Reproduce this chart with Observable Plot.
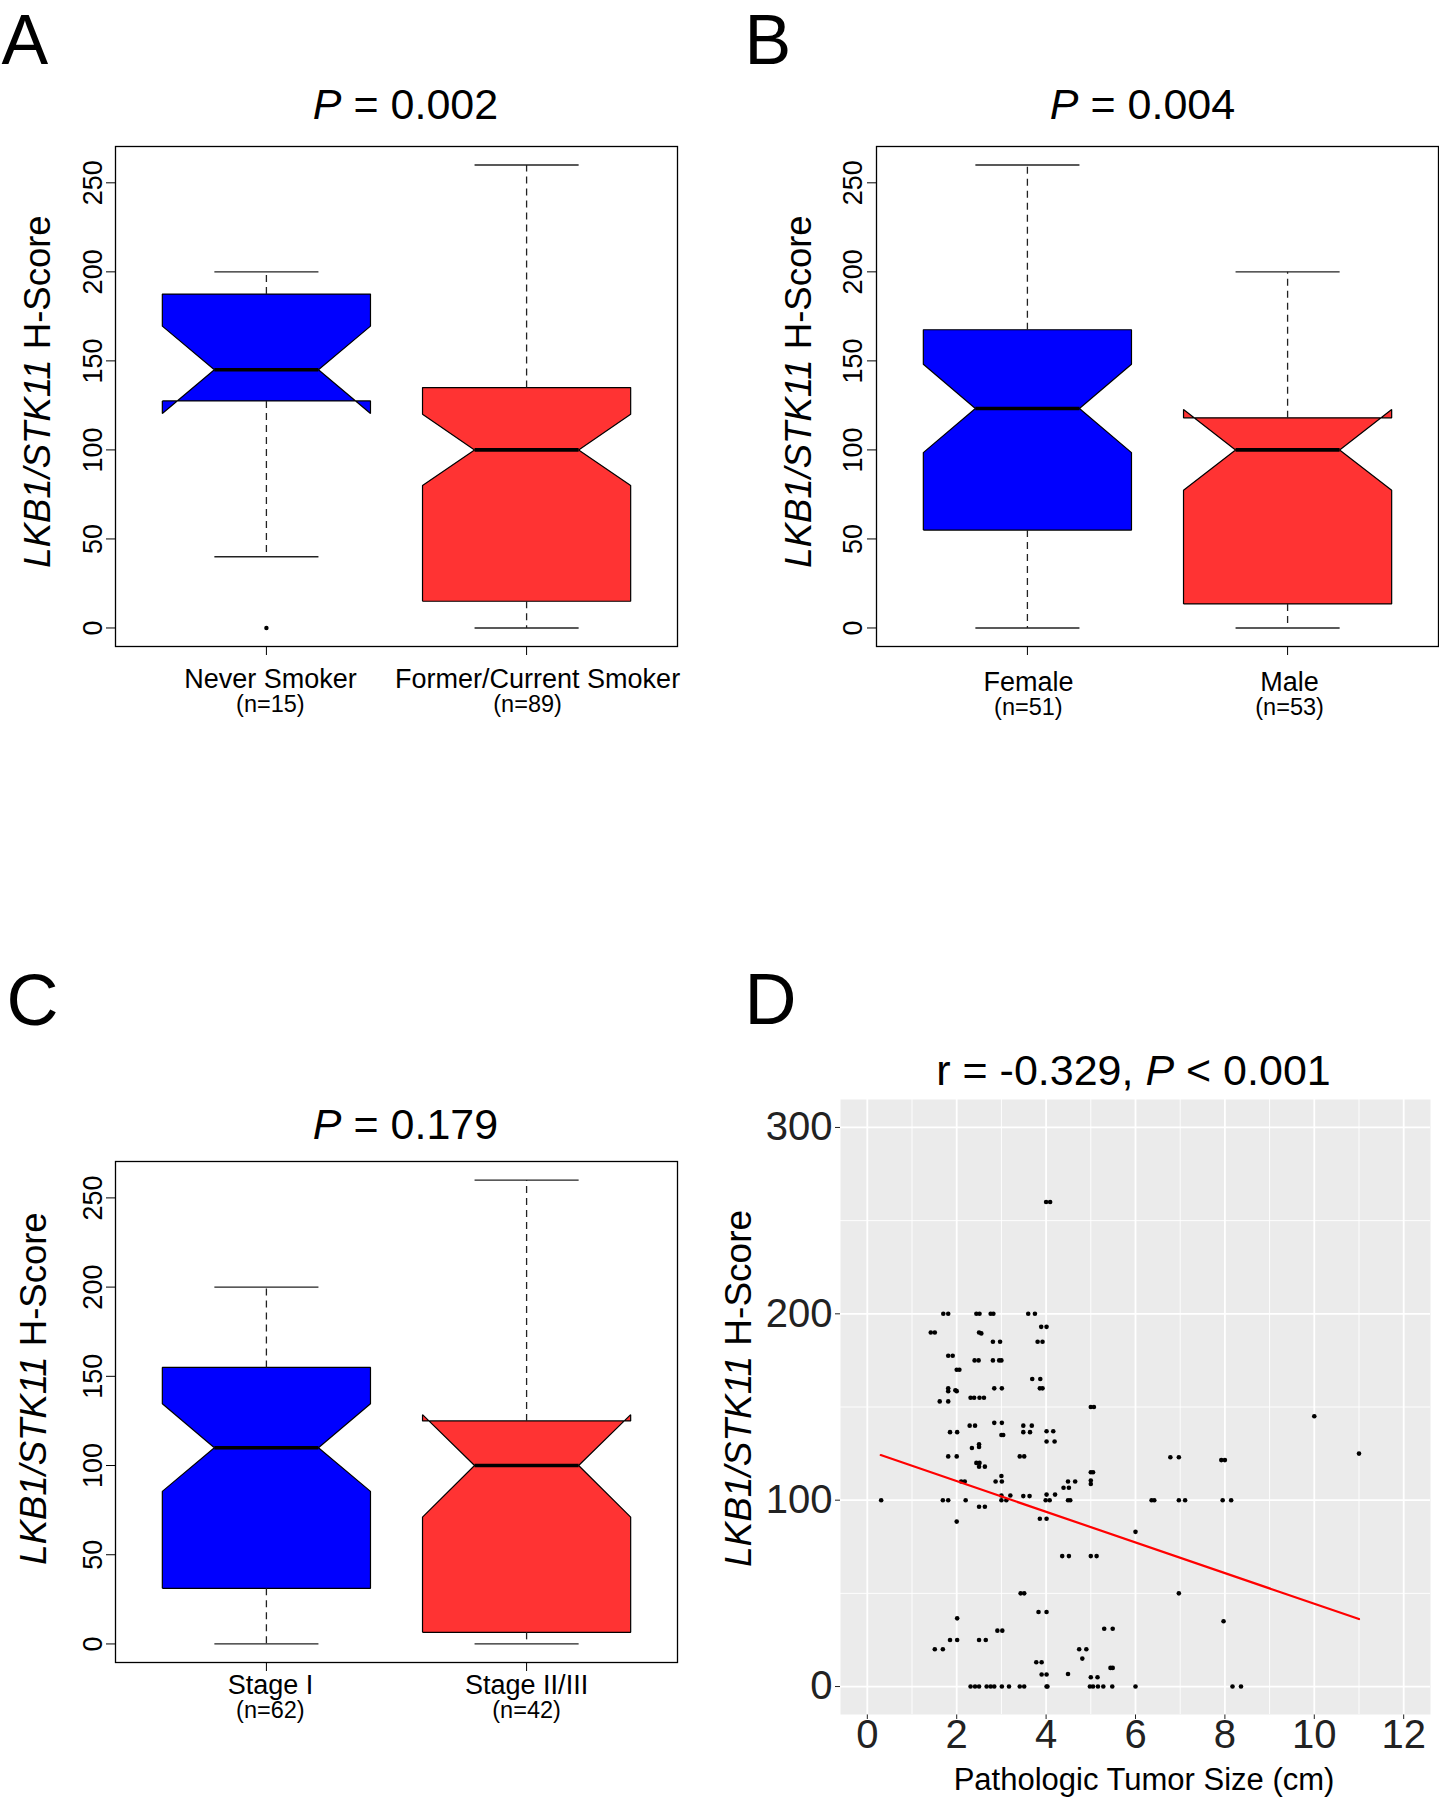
<!DOCTYPE html>
<html><head><meta charset="utf-8">
<script src="https://cdn.jsdelivr.net/npm/d3@7"></script>
<script src="https://cdn.jsdelivr.net/npm/@observablehq/plot@0.6"></script>
<style>
body{margin:0;background:#fff;}
#fig{position:relative;width:1439px;height:1800px;overflow:hidden;background:#fff;}
.panel{position:absolute;}
</style></head><body><div id="fig"></div>
<script>
// ---------------- DATA ----------------
const yLabelText = "LKB1/STK11 H-Score";
const yLabelItalic = "LKB1/STK11";
const boxColors = ["#0000FF", "#FF3333"];
const yTicksBox = [0, 50, 100, 150, 200, 250];

// Panel A
const catsA = ["Never Smoker", "Former/Current Smoker"];
const nA = ["(n=15)", "(n=89)"];
const whiskerLowA = [40, 0];
const q1A = [127.5, 15];
const notchLowA = [120.5, 80];
const medianA = [145, 100];
const notchHighA = [169.5, 120];
const q3A = [187.5, 135];
const whiskerHighA = [200, 260];
const outliersA = [[0], []];
const titleA = "P = 0.002";

// Panel B
const catsB = ["Female", "Male"];
const nB = ["(n=51)", "(n=53)"];
const whiskerLowB = [0, 0];
const q1B = [55, 13.5];
const notchLowB = [98.5, 77.3];
const medianB = [123.3, 100];
const notchHighB = [148.1, 122.7];
const q3B = [167.5, 118];
const whiskerHighB = [260, 200];
const outliersB = [[], []];
const titleB = "P = 0.004";

// Panel C
const catsC = ["Stage I", "Stage II/III"];
const nC = ["(n=62)", "(n=42)"];
const whiskerLowC = [0, 0];
const q1C = [31.2, 6.5];
const notchLowC = [85.5, 71.1];
const medianC = [110, 100];
const notchHighC = [134.6, 128.5];
const q3C = [155, 125];
const whiskerHighC = [200, 260];
const outliersC = [[], []];
const titleC = "P = 0.179";

// Panel D (scatter)
const titleD = "r = -0.329, P < 0.001";
const xLabelD = "Pathologic Tumor Size (cm)";
const xTicksD = [0, 2, 4, 6, 8, 10, 12];
const xMinorD = [1, 3, 5, 7, 9, 11];
const yTicksD = [0, 100, 200, 300];
const yMinorD = [50, 150, 250];
const tumorSize = [
  4.00,4.09,1.70,1.81,2.44,2.51,2.76,2.82,3.60,3.75,3.89,4.01,1.42,1.51,2.50,2.55,2.81,2.97,3.81,3.92,
  1.81,1.91,2.40,2.49,2.81,2.95,3.00,2.00,2.06,3.69,3.87,1.81,1.81,1.97,2.00,2.84,3.01,3.86,3.92,
  2.31,2.39,2.51,2.61,1.62,1.81,5.00,5.07,2.29,2.41,2.84,3.01,3.49,3.68,1.85,2.01,3.49,3.64,4.01,4.16,
  4.01,4.19,3.00,3.04,2.50,2.50,2.34,1.81,2.00,3.41,3.51,2.44,2.51,2.50,2.63,2.10,2.18,2.87,3.01,3.00,
  5.00,5.05,4.49,4.65,4.39,4.51,5.00,5.00,4.01,4.20,3.00,3.20,3.49,3.63,0.31,1.69,1.81,2.20,3.00,3.11,
  3.99,4.08,4.49,4.54,2.50,2.63,2.00,3.86,4.01,4.36,4.51,5.00,5.13,3.43,3.51,
  2.01,3.83,4.01,2.91,3.02,1.85,2.01,2.50,2.65,1.51,1.69,4.74,4.90,4.81,3.78,3.90,3.90,4.01,4.49,5.00,5.15,
  2.31,2.41,2.50,2.67,2.76,2.84,3.01,3.17,3.41,3.51,4.01,4.03,4.98,5.05,5.16,5.28,5.48,6.00,8.17,8.36,
  10.0,11.0,6.78,6.97,7.92,8.00,6.36,6.42,6.97,7.11,7.95,8.14,6.00,6.97,7.97,5.30,5.49,5.44,5.49
];
const hScore = [
  260,260,200,200,200,200,200,200,200,200,193,193,190,190,190,189.5,185,185,185,185,
  177.5,177.5,175,175,175,175,175,170,170,165,165,160,158.5,159,158.5,160,160,160,160,
  155,155,155,155,153,153,150,150,140,140,141.5,141.5,140,140,136.5,136.5,136.5,136.5,137,137,
  131.5,131.5,135,135,130,128.5,128,123.5,123.5,123.5,123.5,120,120,118,118,110,110,110,110,113,
  115,115,110,110,106.7,106.7,110.5,108.7,103,103,102.5,102.5,102.2,102.2,100,100,100,100,100,100,
  100,100,100,100,96.5,96.5,88.5,90,90,70,70,70,70,50,50,
  36.6,40,40,30,30,25,25,25,25,20,20,20,20,15,13,13,6.5,6.5,6.7,5,5,
  0,0,0,0,0,0,0,0,0,0,0,0,0,0,0,0,0,0,0,0,
  145,125,123,123,121.5,121.5,100,100,100,100,100,100,83,50,35,31,31,10,10
];
const fitLine = [{x: 0.3, y: 124.2}, {x: 11.0, y: 36.2}];

// ---------------- DRAWING ----------------
const FONT = '"Liberation Sans", Arial, Helvetica, sans-serif';
const fig = document.getElementById("fig");

function italicize(svg, full, part) {
  d3.select(svg).selectAll("text").each(function () {
    if (this.textContent === full) {
      const k = full.indexOf(part);
      const sel = d3.select(this);
      sel.text(null);
      if (k > 0) sel.append("tspan").text(full.slice(0, k));
      sel.append("tspan").attr("font-style", "italic").text(part);
      if (k + part.length < full.length) sel.append("tspan").text(full.slice(k + part.length));
    }
  });
}

function place(svg, left, top, w, h) {
  const div = document.createElement("div");
  div.className = "panel";
  div.style.left = left + "px"; div.style.top = top + "px";
  div.style.width = w + "px"; div.style.height = h + "px";
  div.appendChild(svg);
  fig.appendChild(div);
}

function boxPanel(p, L) {
  const w = 0.4, nf = 0.5, st = 0.2;
  const marks = [];
  const medians = [], whiskers = [], staples = [], outs = [];
  p.cats.forEach((c, i) => {
    const x = i + 1;
    const poly = [
      [x - w, p.q1[i]], [x + w, p.q1[i]], [x + w, p.nlo[i]], [x + w * nf, p.med[i]],
      [x + w, p.nhi[i]], [x + w, p.q3[i]], [x - w, p.q3[i]], [x - w, p.nhi[i]],
      [x - w * nf, p.med[i]], [x - w, p.nlo[i]], [x - w, p.q1[i]]
    ];
    marks.push(Plot.line(poly, {x: d => d[0], y: d => d[1], fill: boxColors[i], stroke: "black",
      strokeWidth: 1.2, strokeLinejoin: "miter", strokeLinecap: "butt"}));
    medians.push({x1: x - w * nf, x2: x + w * nf, y1: p.med[i], y2: p.med[i]});
    whiskers.push({x1: x, x2: x, y1: p.q3[i], y2: p.hi[i]});
    whiskers.push({x1: x, x2: x, y1: p.q1[i], y2: p.lo[i]});
    staples.push({x1: x - st, x2: x + st, y1: p.hi[i], y2: p.hi[i]});
    staples.push({x1: x - st, x2: x + st, y1: p.lo[i], y2: p.lo[i]});
    p.out[i].forEach(v => outs.push({x, y: v}));
  });
  const seg = {x1: "x1", x2: "x2", y1: "y1", y2: "y2"};
  marks.push(Plot.link(medians, {...seg, stroke: "black", strokeWidth: 3.6, strokeLinecap: "butt"}));
  marks.push(Plot.link(whiskers, {...seg, stroke: "#222", strokeWidth: 1.3, strokeDasharray: "7,5"}));
  marks.push(Plot.link(staples, {...seg, stroke: "#222", strokeWidth: 1.3}));
  marks.push(Plot.dot(outs, {x: "x", y: "y", r: 2.2, fill: "black"}));
  marks.push(Plot.frame({stroke: "black", strokeWidth: 1.3}));
  // y tick labels (rotated, R style)
  marks.push(Plot.text(yTicksBox, {y: d => d, text: d => String(d), frameAnchor: "left", dx: L.tickDx,
    rotate: -90, textAnchor: "middle", lineAnchor: "bottom", fontSize: 27, fill: "black"}));
  // category labels (two lines)
  p.cats.forEach((c, i) => {
    marks.push(Plot.text([c], {x: () => i + 1, text: d => d, frameAnchor: "bottom", dx: L.catDx[i], dy: L.catDy,
      lineAnchor: "bottom", fontSize: 27, fill: "black"}));
    marks.push(Plot.text([p.ns[i]], {x: () => i + 1, text: d => d, frameAnchor: "bottom", dx: L.nDx[i], dy: L.nDy,
      lineAnchor: "bottom", fontSize: 23.5, fill: "black"}));
  });
  // title, letter, y label
  marks.push(Plot.text([p.title], {text: d => d, frameAnchor: "top", dx: L.titleDx, dy: L.titleDy,
    lineAnchor: "bottom", fontSize: 43, fill: "black"}));
  marks.push(Plot.text([p.letter], {text: d => d, frameAnchor: "top-left", dx: L.letterDx, dy: L.letterDy,
    textAnchor: "start", lineAnchor: "bottom", fontSize: L.letterSize, fill: "black"}));
  marks.push(Plot.text([yLabelText], {text: d => d, frameAnchor: "left", dx: L.ylabDx, dy: L.ylabDy,
    rotate: -90, textAnchor: "middle", lineAnchor: "bottom", fontSize: 36.5, fill: "black"}));

  const svg = Plot.plot({
    width: L.W, height: L.H,
    marginLeft: L.ml, marginRight: L.mr, marginTop: L.mt, marginBottom: L.mb,
    x: {domain: [0.42, 2.58], ticks: [1, 2], tickSize: 9, tickFormat: () => "", label: null},
    y: {domain: [-10.4, 270.4], ticks: yTicksBox, tickSize: 9, tickFormat: () => "", label: null},
    style: {fontFamily: FONT, background: "transparent", color: "black", overflow: "visible"},
    marks
  });
  italicize(svg, p.title, "P");
  italicize(svg, yLabelText, yLabelItalic);
  place(svg, L.left, L.top, L.W, L.H);
}

boxPanel(
  {cats: catsA, ns: nA, lo: whiskerLowA, q1: q1A, nlo: notchLowA, med: medianA, nhi: notchHighA,
   q3: q3A, hi: whiskerHighA, out: outliersA, title: titleA, letter: "A"},
  {left: 0, top: 0, W: 720, H: 760, ml: 115, mr: 43, mt: 146, mb: 114,
   tickDx: -13.5, catDx: [4, 11], nDx: [4, 1], catDy: 41, nDy: 65, titleDx: 9, titleDy: -28,
   letterDx: -114, letterDy: -83, letterSize: 70, ylabDx: -66, ylabDy: -5}
);
boxPanel(
  {cats: catsB, ns: nB, lo: whiskerLowB, q1: q1B, nlo: notchLowB, med: medianB, nhi: notchHighB,
   q3: q3B, hi: whiskerHighB, out: outliersB, title: titleB, letter: "B"},
  {left: 720, top: 0, W: 719, H: 760, ml: 156, mr: 1, mt: 146, mb: 114,
   tickDx: -15, catDx: [1, 2], nDx: [1, 2], catDy: 44, nDy: 68, titleDx: -15, titleDy: -28,
   letterDx: -132, letterDy: -83, letterSize: 70, ylabDx: -66, ylabDy: -5}
);
boxPanel(
  {cats: catsC, ns: nC, lo: whiskerLowC, q1: q1C, nlo: notchLowC, med: medianC, nhi: notchHighC,
   q3: q3C, hi: whiskerHighC, out: outliersC, title: titleC, letter: "C"},
  {left: 0, top: 950, W: 720, H: 850, ml: 115, mr: 43, mt: 211, mb: 138,
   tickDx: -14, catDx: [4, 0], nDx: [4, 0], catDy: 31, nDy: 55, titleDx: 9, titleDy: -23,
   letterDx: -109, letterDy: -137, letterSize: 72, ylabDx: -70, ylabDy: -23.5}
);

// Panel D
(function () {
  const pts = tumorSize.map((x, i) => ({x, y: hScore[i]}));
  const svg = Plot.plot({
    width: 719, height: 850, marginLeft: 120, marginRight: 9, marginTop: 149, marginBottom: 86,
    x: {domain: [-0.6, 12.6], ticks: xTicksD, tickSize: 5, tickPadding: 0, label: null},
    y: {domain: [-15, 315], ticks: yTicksD, tickSize: 5, tickPadding: 3, label: null},
    style: {fontFamily: FONT, fontSize: "40px", background: "transparent", color: "#222", overflow: "visible"},
    marks: [
      Plot.frame({fill: "#EBEBEB", stroke: "none"}),
      Plot.ruleX(xMinorD, {stroke: "white", strokeWidth: 0.9}),
      Plot.ruleY(yMinorD, {stroke: "white", strokeWidth: 0.9}),
      Plot.ruleX(xTicksD, {stroke: "white", strokeWidth: 1.8}),
      Plot.ruleY(yTicksD, {stroke: "white", strokeWidth: 1.8}),
      Plot.dot(pts, {x: "x", y: "y", r: 2.3, fill: "black"}),
      Plot.line(fitLine, {x: "x", y: "y", stroke: "#FF0000", strokeWidth: 2.2}),
      Plot.text([titleD], {text: d => d, frameAnchor: "top", dx: -2, dy: -15, lineAnchor: "bottom",
        fontSize: 43, fill: "black"}),
      Plot.text(["D"], {text: d => d, frameAnchor: "top-left", dx: -96, dy: -76, textAnchor: "start",
        lineAnchor: "bottom", fontSize: 72, fill: "black"}),
      Plot.text([yLabelText], {text: d => d, frameAnchor: "left", dx: -90, dy: -18.5, rotate: -90,
        textAnchor: "middle", lineAnchor: "bottom", fontSize: 37, fill: "black"}),
      Plot.text([xLabelD], {text: d => d, frameAnchor: "bottom", dx: 8.5, dy: 75, lineAnchor: "bottom",
        fontSize: 31, fill: "black"})
    ]
  });
  italicize(svg, titleD, "P");
  italicize(svg, yLabelText, yLabelItalic);
  place(svg, 720, 950, 719, 850);
})();
</script></body></html>
